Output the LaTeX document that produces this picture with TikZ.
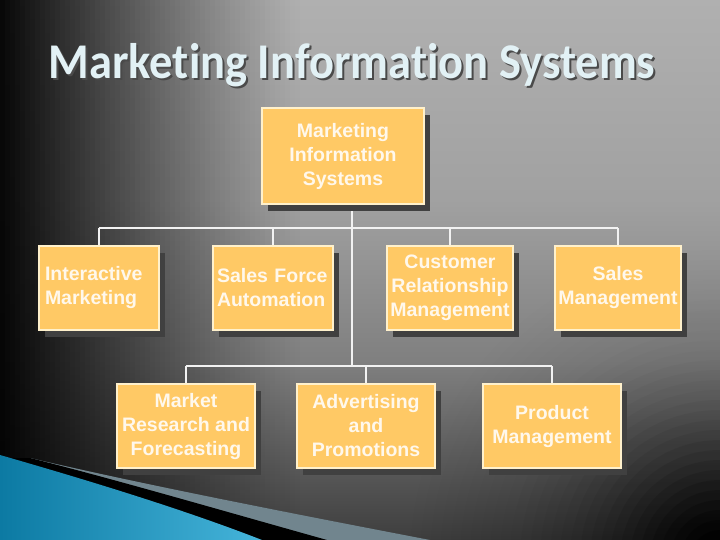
\documentclass[tikz,border=0pt]{standalone}
\usepackage{fontspec}
\setmainfont{Liberation Sans}
\newfontfamily\titlefont[FakeStretch=0.93,Ligatures=NoCommon]{Carlito}
\usetikzlibrary{shadows}

\definecolor{boxfill}{HTML}{FFC965}
\definecolor{boxline}{HTML}{FFF1CC}
\definecolor{boxshade}{HTML}{404040}
\definecolor{boxtext}{HTML}{FFF8EC}
\definecolor{linkwhite}{HTML}{F2F2F2}
\definecolor{titletext}{HTML}{E2F1F5}
\definecolor{titleshade}{HTML}{4A4A4A}
\definecolor{swoopdark}{HTML}{0C7AA3}
\definecolor{swooplight}{HTML}{45B4DA}
\definecolor{swoopgray}{HTML}{71858E}

\pgfdeclareverticalshading{basefill}{720bp}{%
  color(0bp)=(black!76); color(180bp)=(black!50);
  color(340bp)=(black!37); color(540bp)=(black!31)}

\tikzset{
  orgbox/.style={draw=boxline, line width=1.3pt, fill=boxfill, text=boxtext,
    font=\bfseries\fontsize{19.5}{24}\selectfont, align=center, inner sep=0pt,
    general shadow={fill=boxshade, shadow xshift=6pt, shadow yshift=-7pt}},
  link/.style={draw=linkwhite, line width=1.3pt},
}

\begin{document}
\begin{tikzpicture}[x=1pt, y=-1pt]
    \useasboundingbox (0,0) rectangle (720,540);
    \begin{scope}
      \clip (0,0) rectangle (720,540);
      \pgftext[at=\pgfpointorigin, left, top]{\pgfuseshading{basefill}}
      \foreach \s [evaluate=\s as \op using {0.95*(1-\s/60)^1.2}] in {0,...,59}
        \fill[black, opacity=\op] (\s*5,0) rectangle (\s*5+5,540);
      \foreach \r [evaluate=\r as \op using {1-(1-exp(-((\r-9.99)/110)^1.5))/(1-exp(-(\r/110)^1.5))}] in {400,390,...,10}
        \fill[black, opacity=\op] (720,560) circle[radius=\r pt];
      \fill[swoopgray] (30,458) .. controls (150,486) and (300,515) .. (430,540) -- (0,540) -- (0,458) -- cycle;
      \fill[black] (30,458) .. controls (110,478) and (220,510) .. (327,540) -- (0,540) -- (0,458) -- cycle;
      \shade[left color=swoopdark, right color=swooplight] (0,455) .. controls (80,478) and (180,508) .. (262,540) -- (0,540) -- cycle;
    \end{scope}

    \node[text=titleshade, font=\titlefont\bfseries\fontsize{50}{54}\selectfont, anchor=base] (titleshadow) at (354,81) {Marketing Information Systems};
    \node[text=titletext, font=\titlefont\bfseries\fontsize{50}{54}\selectfont, anchor=base] (title) at (352,79) {Marketing Information Systems};

    \coordinate (bus1) at (352,228);
    \coordinate (bus2) at (352,366);

    \draw[link] (bus1 |- 0,204) -- (bus2);
    \draw[link] (99,228) -- (618,228);
    \draw[link] (186,366) -- (552,366);

    \node[orgbox, minimum width=162, minimum height=96] (mis) at (343,156) {Marketing\\Information\\Systems};

    \node[orgbox, minimum width=120, minimum height=84, text width=108, align=left] (im) at (99,288) {Interactive\\Marketing};
    \node[orgbox, minimum width=120, minimum height=84, text width=112, align=left] (sfa) at (273,288) {Sales Force\\Automation};
    \node[orgbox, minimum width=126, minimum height=84] (crm) at (450,288) {Customer\\Relationship\\Management};
    \node[orgbox, minimum width=126, minimum height=84] (sm) at (618,288) {Sales\\Management};

    \node[orgbox, minimum width=138, minimum height=84] (mr) at (186,426) {Market\\Research and\\Forecasting};
    \node[orgbox, minimum width=138, minimum height=84] (ap) at (366,426) {Advertising\\and\\Promotions};
    \node[orgbox, minimum width=138, minimum height=84] (pm) at (552,426) {Product\\Management};

    \draw[link] (im.north) -- (im.north |- bus1);
    \draw[link] (sfa.north) -- (sfa.north |- bus1);
    \draw[link] (crm.north) -- (crm.north |- bus1);
    \draw[link] (sm.north) -- (sm.north |- bus1);
    \draw[link] (mr.north) -- (mr.north |- bus2);
    \draw[link] (ap.north) -- (ap.north |- bus2);
    \draw[link] (pm.north) -- (pm.north |- bus2);
  \end{tikzpicture}
\end{document}
